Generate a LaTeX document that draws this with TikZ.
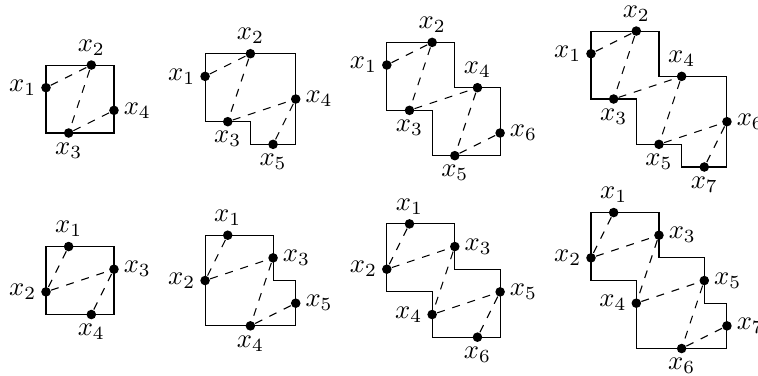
\documentclass[tikz,border=0pt]{standalone}
\usepackage{amsmath}
\usepackage{tikz}

\begin{document}
\begin{tikzpicture}[x=0.3cm,y=0.3cm,
  pnt/.style={circle,fill,inner sep=0pt,minimum size=3.6pt},
  every label/.style={inner sep=1.5pt}]
  \useasboundingbox (0,0) rectangle (33.45,-16.59);
  % top row
  \begin{scope}[shift={(2.03,-5.87)}]
    \draw (0,0) rectangle (3,3);
    \node[pnt,label=left:$x_1$] (a1) at (0,2) {};
    \node[pnt,label=above:$x_2$] (a2) at (2,3) {};
    \node[pnt,label=below:$x_3$] (a3) at (1,0) {};
    \node[pnt,label=right:$x_4$] (a4) at (3,1) {};
    \draw[dashed] (a1)--(a2)--(a3)--(a4);
  \end{scope}
  \begin{scope}[shift={(9.05,-6.37)}]
    \draw (0,1)--(0,4)--(4,4)--(4,0)--(2,0)--(2,1)--cycle;
    \node[pnt,label=left:$x_1$] (b1) at (0,3) {};
    \node[pnt,label=above:$x_2$] (b2) at (2,4) {};
    \node[pnt,label=below:$x_3$] (b3) at (1,1) {};
    \node[pnt,label=right:$x_4$] (b4) at (4,2) {};
    \node[pnt,label=below:$x_5$] (b5) at (3,0) {};
    \draw[dashed] (b1)--(b2)--(b3)--(b4)--(b5);
  \end{scope}
  \begin{scope}[shift={(17.07,-6.87)}]
    \draw (0,2)--(0,5)--(3,5)--(3,3)--(5,3)--(5,0)--(2,0)--(2,2)--cycle;
    \node[pnt,label=left:$x_1$] (c1) at (0,4) {};
    \node[pnt,label=above:$x_2$] (c2) at (2,5) {};
    \node[pnt,label=below:$x_3$] (c3) at (1,2) {};
    \node[pnt,label=above:$x_4$] (c4) at (4,3) {};
    \node[pnt,label=below:$x_5$] (c5) at (3,0) {};
    \node[pnt,label=right:$x_6$] (c6) at (5,1) {};
    \draw[dashed] (c1)--(c2)--(c3)--(c4)--(c5)--(c6);
  \end{scope}
  \begin{scope}[shift={(26.08,-7.37)}]
    \draw (0,3)--(0,6)--(3,6)--(3,4)--(6,4)--(6,0)--(4,0)--(4,1)--(2,1)--(2,3)--cycle;
    \node[pnt,label=left:$x_1$] (d1) at (0,5) {};
    \node[pnt,label=above:$x_2$] (d2) at (2,6) {};
    \node[pnt,label=below:$x_3$] (d3) at (1,3) {};
    \node[pnt,label=above:$x_4$] (d4) at (4,4) {};
    \node[pnt,label=below:$x_5$] (d5) at (3,1) {};
    \node[pnt,label=right:$x_6$] (d6) at (6,2) {};
    \node[pnt,label=below:$x_7$] (d7) at (5,0) {};
    \draw[dashed] (d1)--(d2)--(d3)--(d4)--(d5)--(d6)--(d7);
  \end{scope}
  % bottom row
  \begin{scope}[shift={(2.03,-13.88)}]
    \draw (0,0) rectangle (3,3);
    \node[pnt,label=above:$x_1$] (e1) at (1,3) {};
    \node[pnt,label=left:$x_2$] (e2) at (0,1) {};
    \node[pnt,label=right:$x_3$] (e3) at (3,2) {};
    \node[pnt,label=below:$x_4$] (e4) at (2,0) {};
    \draw[dashed] (e1)--(e2)--(e3)--(e4);
  \end{scope}
  \begin{scope}[shift={(9.05,-14.38)}]
    \draw (0,0)--(0,4)--(3,4)--(3,2)--(4,2)--(4,0)--cycle;
    \node[pnt,label=above:$x_1$] (f1) at (1,4) {};
    \node[pnt,label=left:$x_2$] (f2) at (0,2) {};
    \node[pnt,label=right:$x_3$] (f3) at (3,3) {};
    \node[pnt,label=below:$x_4$] (f4) at (2,0) {};
    \node[pnt,label=right:$x_5$] (f5) at (4,1) {};
    \draw[dashed] (f1)--(f2)--(f3)--(f4)--(f5);
  \end{scope}
  \begin{scope}[shift={(17.07,-14.88)}]
    \draw (0,2)--(0,5)--(3,5)--(3,3)--(5,3)--(5,0)--(2,0)--(2,2)--cycle;
    \node[pnt,label=above:$x_1$] (g1) at (1,5) {};
    \node[pnt,label=left:$x_2$] (g2) at (0,3) {};
    \node[pnt,label=right:$x_3$] (g3) at (3,4) {};
    \node[pnt,label=left:$x_4$] (g4) at (2,1) {};
    \node[pnt,label=right:$x_5$] (g5) at (5,2) {};
    \node[pnt,label=below:$x_6$] (g6) at (4,0) {};
    \draw[dashed] (g1)--(g2)--(g3)--(g4)--(g5)--(g6);
  \end{scope}
  \begin{scope}[shift={(26.08,-15.38)}]
    \draw (0,3)--(0,6)--(3,6)--(3,4)--(5,4)--(5,2)--(6,2)--(6,0)--(2,0)--(2,3)--cycle;
    \node[pnt,label=above:$x_1$] (h1) at (1,6) {};
    \node[pnt,label=left:$x_2$] (h2) at (0,4) {};
    \node[pnt,label=right:$x_3$] (h3) at (3,5) {};
    \node[pnt,label=left:$x_4$] (h4) at (2,2) {};
    \node[pnt,label=right:$x_5$] (h5) at (5,3) {};
    \node[pnt,label=below:$x_6$] (h6) at (4,0) {};
    \node[pnt,label=right:$x_7$] (h7) at (6,1) {};
    \draw[dashed] (h1)--(h2)--(h3)--(h4)--(h5)--(h6)--(h7);
  \end{scope}
\end{tikzpicture}
\end{document}
